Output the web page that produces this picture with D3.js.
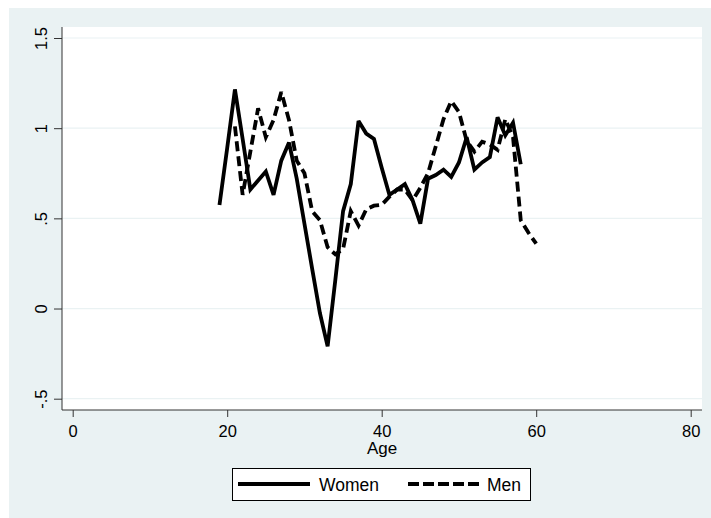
<!DOCTYPE html>
<html><head><meta charset="utf-8">
<script src="https://cdn.jsdelivr.net/npm/d3@7"></script>
<style>html,body{margin:0;padding:0;background:#fff;}svg{display:block;}</style>
</head><body>
<script>
const womenAges = d3.range(19, 59);
const womenValues = [0.574, 0.89, 1.215, 0.94, 0.66, 0.71, 0.76, 0.63, 0.82, 0.92,
  0.72, 0.47, 0.22, -0.025, -0.21, 0.16, 0.54, 0.69, 1.04, 0.97,
  0.94, 0.78, 0.63, 0.66, 0.69, 0.60, 0.47, 0.72, 0.74, 0.77,
  0.73, 0.81, 0.95, 0.77, 0.81, 0.84, 1.06, 0.96, 1.03, 0.80];
const menAges = d3.range(21, 61);
const menValues = [1.01, 0.63, 0.87, 1.11, 0.95, 1.045, 1.20, 1.045, 0.82, 0.75,
  0.54, 0.49, 0.34, 0.30, 0.33, 0.54, 0.46, 0.55, 0.57, 0.575,
  0.62, 0.66, 0.66, 0.60, 0.67, 0.75, 0.90, 1.05, 1.15, 1.09,
  0.93, 0.87, 0.925, 0.91, 0.88, 1.05, 0.95, 0.49, 0.42, 0.36];
const xTicks = [0, 20, 40, 60, 80];
const yTicks = [-0.5, 0, 0.5, 1, 1.5];
const yTickLabels = ["-.5", "0", ".5", "1", "1.5"];
const xTitle = "Age";
const seriesNames = ["Women", "Men"];

const W = 711, H = 518;
const svg = d3.select("body").append("svg").attr("width", W).attr("height", H);
const font = "'Liberation Sans', Arial, sans-serif";

// graph region background
svg.append("rect").attr("x", 9).attr("y", 8).attr("width", W - 9).attr("height", H - 8).attr("fill", "#EAF2F3");

const plot = {l: 62, r: 702, t: 27, b: 410};
svg.append("rect").attr("x", plot.l).attr("y", plot.t).attr("width", plot.r - plot.l).attr("height", plot.b - plot.t).attr("fill", "#fff");

const x = d3.scaleLinear().domain([0, 80]).range([72.7, 690.7]);
const y = d3.scaleLinear().domain([-0.5, 1.5]).range([398.7, 38]);

// gridlines
svg.append("g").selectAll("line").data(yTicks).join("line")
  .attr("x1", plot.l).attr("x2", plot.r)
  .attr("y1", d => y(d)).attr("y2", d => y(d))
  .attr("stroke", "#EAF2F3").attr("stroke-width", 1.2);

// Y axis
const yAxis = svg.append("g").attr("transform", `translate(${plot.l},0)`)
  .call(d3.axisLeft(y).tickValues(yTicks).tickSize(8).tickFormat((d, i) => yTickLabels[i]));
yAxis.select(".domain").attr("d", `M0,${plot.t}V${plot.b}`).attr("stroke", "#333");
yAxis.selectAll(".tick line").attr("stroke", "#333");
yAxis.selectAll(".tick text")
  .attr("font-family", font).attr("font-size", 16.5).attr("fill", "#000")
  .attr("transform", "rotate(-90)").attr("text-anchor", "middle")
  .attr("x", 0).attr("dy", 0).attr("y", -15);

// X axis
const xAxis = svg.append("g").attr("transform", `translate(0,${plot.b})`)
  .call(d3.axisBottom(x).tickValues(xTicks).tickSize(7).tickFormat(d3.format("d")));
xAxis.select(".domain").attr("d", `M${plot.l},0H${plot.r}`).attr("stroke", "#333");
xAxis.selectAll(".tick line").attr("stroke", "#333");
xAxis.selectAll(".tick text").attr("font-family", font).attr("font-size", 16.5).attr("fill", "#000")
  .attr("dy", 0).attr("y", 27);

svg.append("text").attr("x", 382).attr("y", 454).attr("text-anchor", "middle")
  .attr("font-family", font).attr("font-size", 17).text(xTitle);

// lines
const line = d3.line().x(d => x(d[0])).y(d => y(d[1]));
const women = womenAges.map((a, i) => [a, womenValues[i]]);
const men = menAges.map((a, i) => [a, menValues[i]]);
svg.append("path").datum(women).attr("d", line).attr("fill", "none").attr("stroke", "#000")
  .attr("stroke-width", 3.8).attr("stroke-linejoin", "miter").attr("stroke-miterlimit", 3);
svg.append("path").datum(men).attr("d", line).attr("fill", "none").attr("stroke", "#000")
  .attr("stroke-width", 3.8).attr("stroke-dasharray", "10,5").attr("stroke-linejoin", "miter").attr("stroke-miterlimit", 3);

// legend
const lg = svg.append("g");
lg.append("rect").attr("x", 232.5).attr("y", 468.5).attr("width", 298).attr("height", 32)
  .attr("fill", "#fff").attr("stroke", "#000").attr("stroke-width", 1);
lg.append("line").attr("x1", 238).attr("x2", 310).attr("y1", 484).attr("y2", 484)
  .attr("stroke", "#000").attr("stroke-width", 4);
lg.append("text").attr("x", 319).attr("y", 491).attr("font-family", font).attr("font-size", 17.5).text(seriesNames[0]);
lg.append("line").attr("x1", 408).attr("x2", 479).attr("y1", 484).attr("y2", 484)
  .attr("stroke", "#000").attr("stroke-width", 4).attr("stroke-dasharray", "11,4");
lg.append("text").attr("x", 487).attr("y", 491).attr("font-family", font).attr("font-size", 17.5).text(seriesNames[1]);
</script>
</body></html>
